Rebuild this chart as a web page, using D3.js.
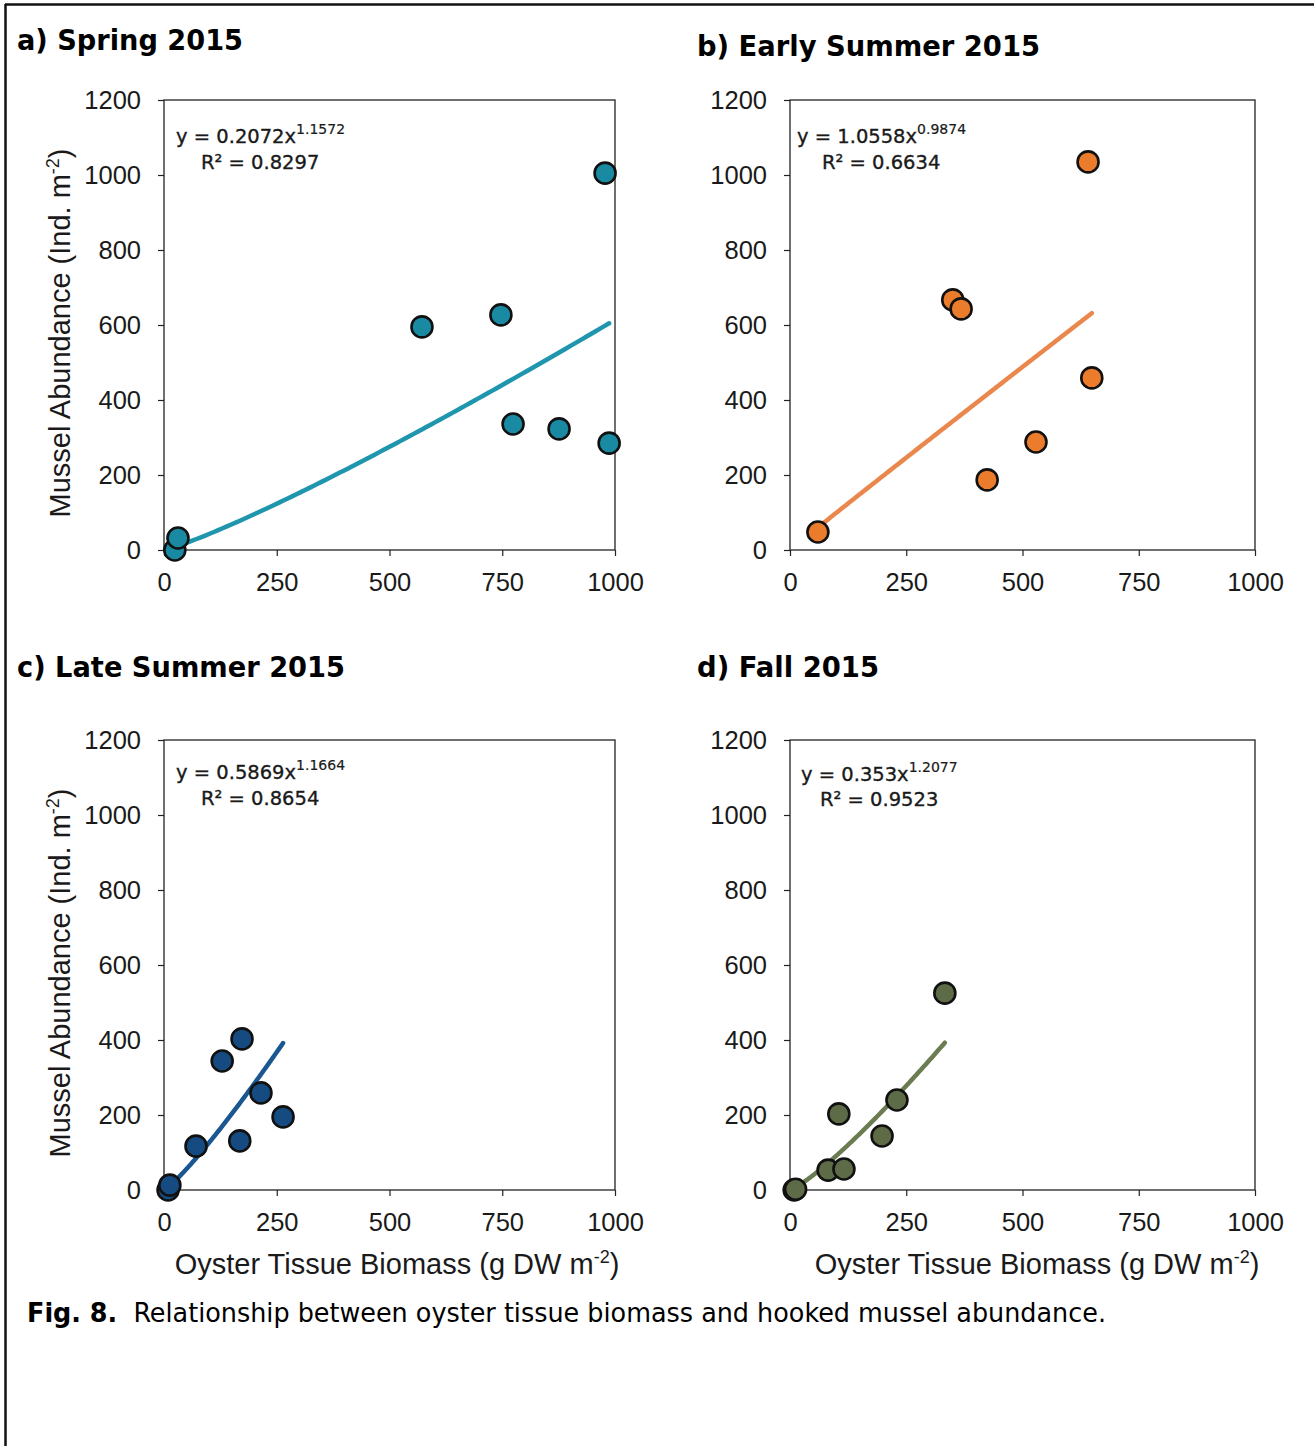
<!DOCTYPE html>
<html>
<head>
<meta charset="utf-8">
<script src="https://cdn.jsdelivr.net/npm/d3@7"></script>
<style>
  html, body { margin: 0; padding: 0; background: #fff; }
  svg { display: block; }
</style>
</head>
<body>
<svg id="fig" width="1314" height="1446"></svg>
<script>
// Axis ticks shared by all four panels
const xTicks = [0, 250, 500, 750, 1000];
const yTicks = [0, 200, 400, 600, 800, 1000, 1200];

// a) Spring 2015
const springBiomass   = [24, 31, 572, 747, 774, 876, 978, 987];
const springAbundance = [0, 32, 595, 627, 336, 323, 1005, 285];

// b) Early Summer 2015
const earlyBiomass   = [60, 350, 368, 424, 529, 641, 649];
const earlyAbundance = [48, 667, 643, 187, 288, 1035, 459];

// c) Late Summer 2015
const lateBiomass   = [9, 13, 71, 129, 168, 173, 215, 264];
const lateAbundance = [0, 13, 117, 344, 131, 403, 259, 195];

// d) Fall 2015
const fallBiomass   = [9, 12, 82, 105, 116, 198, 230, 333];
const fallAbundance = [0, 2, 53, 203, 56, 144, 240, 525];

// Power-law fits y = a * x^b and their R² values
const fitA  = [0.2072, 1.0558, 0.5869, 0.353];
const fitB  = [1.1572, 0.9874, 1.1664, 1.2077];
const fitR2 = ["0.8297", "0.6634", "0.8654", "0.9523"];
const fitAText = ["0.2072", "1.0558", "0.5869", "0.353"];
const fitBText = ["1.1572", "0.9874", "1.1664", "1.2077"];

const titles = ["a) Spring 2015", "b) Early Summer 2015", "c) Late Summer 2015", "d) Fall 2015"];

const svg = d3.select("#fig");

// outer frame: top and left rules
svg.append("line").attr("x1", 5).attr("x2", 1314).attr("y1", 4.5).attr("y2", 4.5)
  .attr("stroke", "#111").attr("stroke-width", 2.5);
svg.append("line").attr("x1", 5.5).attr("x2", 5.5).attr("y1", 4).attr("y2", 1446)
  .attr("stroke", "#111").attr("stroke-width", 2.5);

const panels = [
  { xs: springBiomass, ys: springAbundance, fill: "#1a8aa3", line: "#1f96ad",
    box: { l: 164, r: 615, t: 100, b: 550 }, title: { x: 17, y: 50, w: 226 },
    eq: { x: 176, y: 143, rx: 201, ry: 169 }, yLabel: true, xLabel: false, xTitleX: 397 },
  { xs: earlyBiomass, ys: earlyAbundance, fill: "#eb7c2b", line: "#ea874d",
    box: { l: 790, r: 1255, t: 100, b: 550 }, title: { x: 697, y: 56, w: 343 },
    eq: { x: 797, y: 143, rx: 822, ry: 169 }, yLabel: false, xLabel: false, xTitleX: 1037 },
  { xs: lateBiomass, ys: lateAbundance, fill: "#154b81", line: "#1a5690",
    box: { l: 164, r: 615, t: 740, b: 1190 }, title: { x: 17, y: 677, w: 328 },
    eq: { x: 176, y: 779, rx: 201, ry: 805 }, yLabel: true, xLabel: true, xTitleX: 397 },
  { xs: fallBiomass, ys: fallAbundance, fill: "#5d6b46", line: "#6b7c52",
    box: { l: 790, r: 1255, t: 740, b: 1190 }, title: { x: 697, y: 677, w: 182 },
    eq: { x: 801, y: 781, rx: 820, ry: 806 }, yLabel: false, xLabel: true, xTitleX: 1037 }
];

panels.forEach((p, i) => {
  const x = d3.scaleLinear().domain([0, 1000]).range([p.box.l, p.box.r]);
  const y = d3.scaleLinear().domain([0, 1200]).range([p.box.b, p.box.t]);

  // panel title
  svg.append("text")
    .attr("x", p.title.x).attr("y", p.title.y)
    .attr("font-family", "DejaVu Sans")
    .attr("font-weight", "bold")
    .attr("font-size", 28)
    .attr("textLength", p.title.w)
    .attr("lengthAdjust", "spacingAndGlyphs")
    .attr("fill", "#000")
    .text(titles[i]);

  // axes
  const gx = svg.append("g").attr("transform", `translate(0,${p.box.b})`)
    .call(d3.axisBottom(x).tickValues(xTicks).tickSizeInner(6).tickSizeOuter(0).tickPadding(17).tickFormat(d3.format("d")));
  const gy = svg.append("g").attr("transform", `translate(${p.box.l},0)`)
    .call(d3.axisLeft(y).tickValues(yTicks).tickSizeInner(6).tickSizeOuter(0).tickPadding(17).tickFormat(d3.format("d")));
  [gx, gy].forEach(g => {
    g.select(".domain").remove();
    g.selectAll(".tick line").attr("stroke", "#222").attr("stroke-width", 1.2);
    g.selectAll(".tick text")
      .attr("font-family", "Liberation Sans, Arial, sans-serif")
      .attr("font-size", 25.5).attr("fill", "#1a1a1a");
  });

  // plot frame
  svg.append("rect")
    .attr("x", p.box.l).attr("y", p.box.t)
    .attr("width", p.box.r - p.box.l).attr("height", p.box.b - p.box.t)
    .attr("fill", "none").attr("stroke", "#222").attr("stroke-width", 1.3);

  // fitted power curve over the range of the data
  const xmin = d3.min(p.xs), xmax = d3.max(p.xs);
  const curve = d3.range(0, 101).map(k => {
    const xv = xmin + (xmax - xmin) * k / 100;
    return [xv, fitA[i] * Math.pow(xv, fitB[i])];
  });
  svg.append("path")
    .datum(curve)
    .attr("fill", "none")
    .attr("stroke", p.line)
    .attr("stroke-width", 4.5)
    .attr("stroke-linecap", "round")
    .attr("d", d3.line().x(d => x(d[0])).y(d => y(d[1])));

  // observations
  svg.append("g").selectAll("circle")
    .data(p.xs.map((v, k) => [v, p.ys[k]]))
    .join("circle")
    .attr("cx", d => x(d[0])).attr("cy", d => y(d[1]))
    .attr("r", 10.5)
    .attr("fill", p.fill)
    .attr("stroke", "#111")
    .attr("stroke-width", 2.6);

  // equation and R²
  const eq = svg.append("text")
    .attr("x", p.eq.x).attr("y", p.eq.y)
    .attr("font-family", "DejaVu Sans, sans-serif")
    .attr("font-size", 19.5).attr("fill", "#1a1a1a")
    .attr("stroke", "#1a1a1a").attr("stroke-width", 0.35);
  eq.append("tspan").text(`y = ${fitAText[i]}x`);
  eq.append("tspan").attr("dy", -9).attr("font-size", 14).attr("stroke-width", 0.2).text(fitBText[i]);
  svg.append("text")
    .attr("x", p.eq.rx).attr("y", p.eq.ry)
    .attr("font-family", "DejaVu Sans, sans-serif")
    .attr("font-size", 19.5).attr("fill", "#1a1a1a")
    .attr("stroke", "#1a1a1a").attr("stroke-width", 0.35)
    .text(`R² = ${fitR2[i]}`);

  // y axis title
  if (p.yLabel) {
    const cy = (p.box.t + p.box.b) / 2 + 8;
    const t = svg.append("text")
      .attr("transform", `translate(70,${cy}) rotate(-90)`)
      .attr("text-anchor", "middle")
      .attr("font-family", "Liberation Sans, Arial, sans-serif")
      .attr("font-size", 29).attr("fill", "#1a1a1a");
    t.append("tspan").text("Mussel Abundance (Ind. m");
    t.append("tspan").attr("dy", -11).attr("font-size", 18).text("-2");
    t.append("tspan").attr("dy", 11).text(")");
  }

  // x axis title
  if (p.xLabel) {
    const t = svg.append("text")
      .attr("x", p.xTitleX).attr("y", 1274)
      .attr("text-anchor", "middle")
      .attr("font-family", "Liberation Sans, Arial, sans-serif")
      .attr("font-size", 29).attr("fill", "#1a1a1a");
    t.append("tspan").text("Oyster Tissue Biomass (g DW m");
    t.append("tspan").attr("dy", -11).attr("font-size", 18).text("-2");
    t.append("tspan").attr("dy", 11).text(")");
  }
});

// figure caption
const cap = svg.append("text")
  .attr("x", 27).attr("y", 1322)
  .attr("font-family", "DejaVu Sans Condensed, Liberation Sans Narrow, Liberation Sans, sans-serif")
  .attr("font-size", 26).attr("fill", "#000")
  .attr("textLength", 1079).attr("lengthAdjust", "spacingAndGlyphs");
cap.append("tspan").attr("font-weight", "bold").text("Fig. 8.");
cap.append("tspan").text("\u00a0\u00a0Relationship between oyster tissue biomass and hooked mussel abundance.");
</script>
</body>
</html>
